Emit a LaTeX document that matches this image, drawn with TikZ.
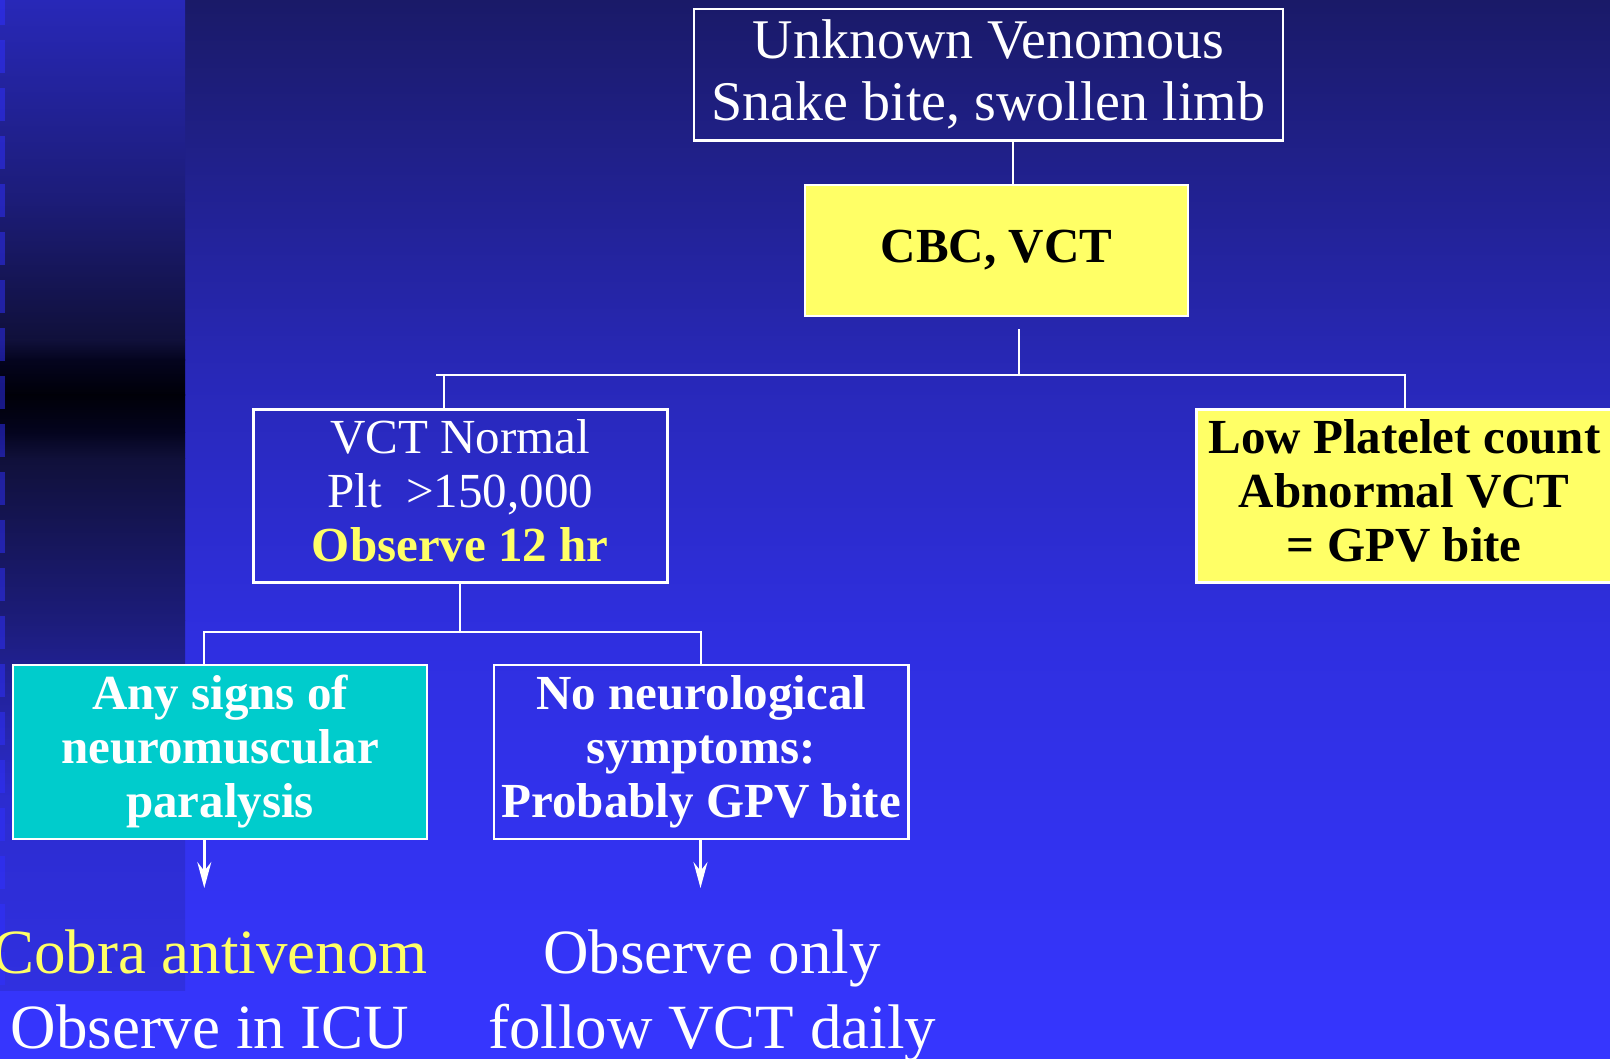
\documentclass[tikz,border=0pt]{standalone}
\usepackage{fontspec}
\setmainfont{Liberation Serif}
\usetikzlibrary{arrows.meta,calc}
\definecolor{boxyellow}{HTML}{FFFF66}
\definecolor{boxcyan}{HTML}{00CCCC}
\definecolor{txtyellow}{HTML}{FFFF66}
\definecolor{bgA}{HTML}{1A1A68}
\definecolor{bgB}{HTML}{2828B8}
\definecolor{bgC}{HTML}{2F2FE0}
\definecolor{bgD}{HTML}{3636FF}
\definecolor{sA}{HTML}{2828B8}
\definecolor{sB}{HTML}{1C1C78}
\definecolor{sC}{HTML}{10103A}
\definecolor{sD}{HTML}{04041E}
\definecolor{sE}{HTML}{000008}
\definecolor{sF}{HTML}{1C1C7A}
\definecolor{sG}{HTML}{2C2CD0}
\definecolor{sH}{HTML}{3030E0}
\definecolor{markc}{HTML}{3030FF}
\newcommand\dpfix[1]{\rule[-#1pt]{0pt}{#1pt}}
\begin{document}
\begin{tikzpicture}[x=1pt,y=-1pt,
  box/.style={draw=white, line width=2.5pt, inner sep=0pt, align=center, rectangle},
  midfont/.style={font=\fontsize{49}{54}\selectfont},
  midbold/.style={font=\fontsize{49}{54}\selectfont\bfseries},
  bigfont/.style={font=\fontsize{63}{75}\selectfont},
  conn/.style={draw=white, line width=2pt},
  arr/.style={draw=white, line width=2.5pt, -{Stealth[length=26pt,width=14pt,inset=9pt]}},
]
\useasboundingbox (0,0) rectangle (1610,1059);
% background
\shade[top color=bgA,bottom color=bgB] (0,0) rectangle (1610,375.5);
\shade[top color=bgB,bottom color=bgC] (0,375) rectangle (1610,640.5);
\shade[top color=bgC,bottom color=bgD] (0,640) rectangle (1610,1059);
% left strip
\shade[top color=sA,bottom color=sB] (0,0) rectangle (185,200.5);
\shade[top color=sB,bottom color=sC] (0,200) rectangle (185,340.5);
\shade[top color=sC,bottom color=sD] (0,340) rectangle (185,360.5);
\shade[top color=sD,bottom color=sE] (0,360) rectangle (185,395.5);
\shade[top color=sE,bottom color=sD] (0,395) rectangle (185,432.5);
\shade[top color=sD,bottom color=sC] (0,432) rectangle (185,458.5);
\shade[top color=sC,bottom color=sF] (0,458) rectangle (185,620.5);
\shade[top color=sF,bottom color=sG] (0,620) rectangle (185,800.5);
\shade[top color=sG,bottom color=sH] (0,800) rectangle (185,990);
\foreach \k in {0,...,20} \fill[markc, opacity=.5] (0,{-8+48*\k}) rectangle (5,{25+48*\k});

% boxes
\node[box, minimum width=589pt, minimum height=131.5pt, text=white,
      font=\fontsize{56}{62}\selectfont] (top) at (988.5,75)
      {Unknown Venomous\\Snake bite, swollen limb\dpfix{10}};
\node[box, midbold, fill=boxyellow, text=black, minimum width=383pt, minimum height=131pt]
      (cbc) at (996.5,250.5) {CBC, VCT};
\node[box, midfont, text=white, minimum width=414pt, minimum height=173.4pt]
      (vct) at (460.3,496) {VCT Normal\\Plt\ \ >150,000\\{\bfseries\color{txtyellow}Observe 12 hr}\dpfix{12}};
\node[box, midbold, fill=boxyellow, text=black, minimum width=415.3pt, minimum height=173.4pt]
      (low) at (1404.35,496) {Low Platelet count\\Abnormal VCT\\= GPV bite\dpfix{12}};
\node[box, midbold, fill=boxcyan, text=white, minimum width=414pt, minimum height=174pt]
      (any) at (220,752) {Any signs of\\neuromuscular\\paralysis\dpfix{5}};
\node[box, midbold, text=white, minimum width=414.5pt, minimum height=174pt]
      (noneuro) at (701.25,752) {No neurological\\symptoms:\\Probably GPV bite\dpfix{5}};
\node[bigfont, align=center, inner sep=0pt, anchor=north, text=white] (cobra) at (210,930)
      {{\color{txtyellow}Cobra antivenom}\\Observe in ICU};
\node[bigfont, align=center, inner sep=0pt, anchor=north, text=white] (observe) at (712,930)
      {Observe only\\follow VCT daily};

% connector coordinates
\coordinate (t1) at (1013,0);
\coordinate (cbcgap) at ($(cbc.south)+(0,12)$);
\coordinate (hm) at (1019,375.3);
\coordinate (hl) at (436,375.3);
\coordinate (hr) at (1405,375.3);
\coordinate (vl) at (444.3,375.3);
\coordinate (h2m) at (460,632.3);
\coordinate (h2l) at (204.3,632.3);
\coordinate (h2r) at (700.5,632.3);
\coordinate (a1) at (204.3,888);
\coordinate (a2) at (700.5,888);

% connectors
\draw[conn] (top.south -| t1) -- (cbc.north -| t1);
\draw[conn] (cbcgap -| hm) -- (hm);
\draw[conn] (hl) -- (hr) -- (low.north -| hr);
\draw[conn] (vl) -- (vct.north -| vl);
\draw[conn] (vct.south -| h2m) -- (h2m);
\draw[conn] (any.north -| h2l) -- (h2l) -- (h2r) -- (noneuro.north -| h2r);
\draw[arr] (any.south -| a1) -- (a1);
\draw[arr] (noneuro.south -| a2) -- (a2);
\end{tikzpicture}
\end{document}
